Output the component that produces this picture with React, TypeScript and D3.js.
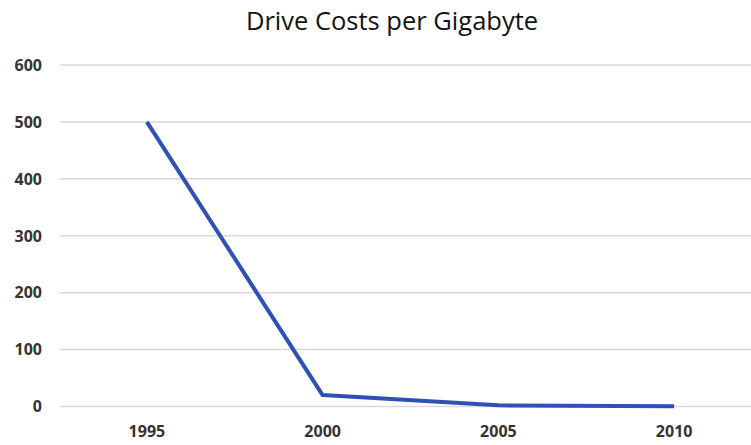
import React from "react";
import * as d3 from "d3";

const years = ["1995", "2000", "2005", "2010"];
const costs = [500, 20, 2, 0.5];
const yTicks = [0, 100, 200, 300, 400, 500, 600];
const title = "Drive Costs per Gigabyte";

export default function App() {
  const W = 751, H = 445;
  const x = d3.scalePoint<string>().domain(years).range([59, 762]).padding(0.5);
  const y = d3.scaleLinear().domain([0, 600]).range([406.5, 65]);
  const line = d3
    .line<number>()
    .x((_, i) => x(years[i]) as number)
    .y((d) => y(d));
  return (
    <svg width={W} height={H} style={{ position: "absolute", left: 0, top: 0, background: "#fff" }}>
      <rect width={W} height={H} fill="#fff" />
      <text x={392} y={30} textAnchor="middle" fontFamily="Open Sans" fontSize={25.5} fill="#141414">
        {title}
      </text>
      {yTicks.map((t) => (
        <g key={t}>
          <line x1={60} x2={W} y1={y(t)} y2={y(t)} stroke="#d9d9d9" strokeWidth={1.5} />
          <text
            x={42}
            y={y(t)}
            dy="0.36em"
            textAnchor="end"
            fontFamily="Open Sans"
            fontWeight="bold"
            fontSize={16}
            fill="#333"
          >
            {t}
          </text>
        </g>
      ))}
      {years.map((yr) => (
        <text
          key={yr}
          x={x(yr) as number}
          y={431}
          dy="0.36em"
          textAnchor="middle"
          fontFamily="Open Sans"
          fontWeight="bold"
          fontSize={16}
          fill="#333"
        >
          {yr}
        </text>
      ))}
      <path d={line(costs) || ""} fill="none" stroke="#2f50b5" strokeWidth={4} strokeLinejoin="round" />
    </svg>
  );
}
